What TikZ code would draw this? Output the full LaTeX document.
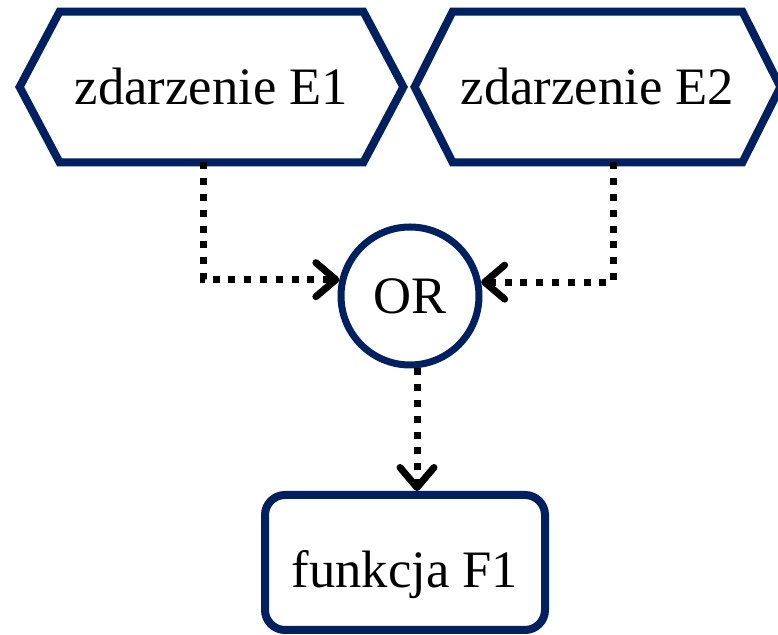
\documentclass[tikz,border=0pt]{standalone}
\usepackage{fontspec}
\setmainfont{Liberation Serif}
\usetikzlibrary{arrows.meta}
\definecolor{navy}{RGB}{0,32,96}

\tikzset{
  every node/.style={font=\fontsize{26.3}{31}\selectfont, inner sep=0pt},
  event/.style={minimum height=75pt},
  hexline/.style={draw=navy, line width=4pt},
  gate/.style={circle, draw=navy, line width=3.5pt, minimum size=69pt},
  func/.style={draw=navy, line width=4pt, rounded corners=10pt, minimum width=140pt, minimum height=67.5pt, text height=25.5pt, text depth=0pt},
  flow/.style={line width=3.5pt, dash pattern=on 3.5pt off 4.4pt, -{Straight Barb[length=10pt, width=17pt, line width=3.5pt, round]}},
}

\begin{document}
\begin{tikzpicture}[x=0.5pt, y=-0.5pt]
    \useasboundingbox (0,0) rectangle (778,635);
    \node[event, minimum width=151.5pt] (e1) at (211.5,87) {zdarzenie E1};
    \node[event, minimum width=144.5pt] (e2) at (597.5,87) {zdarzenie E2};
    \foreach \e/\t in {e1/20pt, e2/19pt}
      \draw[hexline] (\e.north west) -- (\e.north east) -- ([xshift=\t]\e.east) -- (\e.south east)
        -- (\e.south west) -- ([xshift=-\t]\e.west) -- cycle;
    \node[gate] (or) at (410,296) {OR};
    \node[func] (f1) at (405,562.5) {funkcja F1};
    \draw[flow] ([xshift=-4pt]e1.south) |- (or.167);
    \draw[flow] ([xshift=7.75pt]e2.south) |- (or.11);
    \draw[flow] ([xshift=3.5pt]or.south) -- ([xshift=3.5pt]or.south |- f1.north);
\end{tikzpicture}
\end{document}
